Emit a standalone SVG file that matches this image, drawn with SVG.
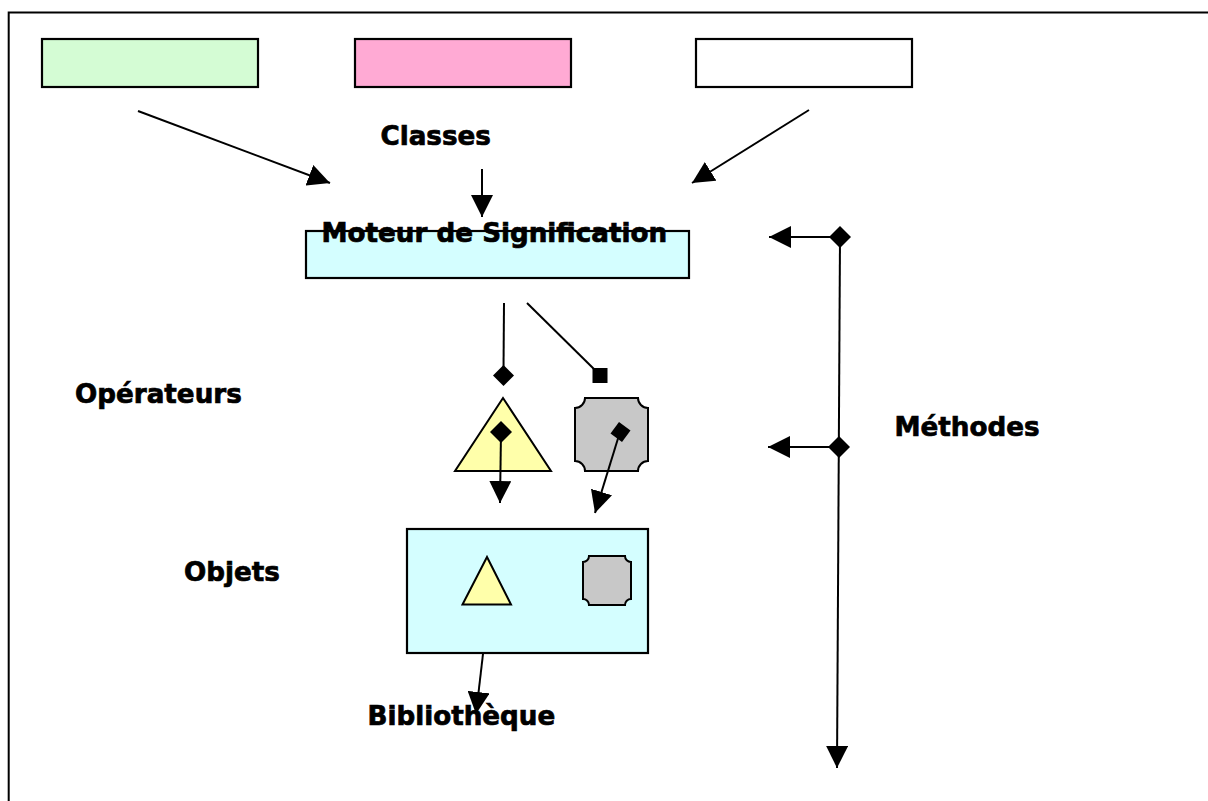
<svg xmlns="http://www.w3.org/2000/svg" width="1208" height="801" viewBox="0 0 1208 801">
  <defs>
    <style>
      .box { stroke: #000; stroke-width: 2.2; }
      .shape { stroke: #000; stroke-width: 2; }
      .ln { stroke: #000; stroke-width: 2; fill: none; }
      .arr { marker-end: url(#arrow); }
      .lbl { font-family: "DejaVu Sans", Verdana, sans-serif; font-weight: bold; font-size: 26.2px; fill: #000; stroke: #000; stroke-width: 0.7px; }
      .blk { fill: #000; }
    </style>
    <marker id="arrow" markerUnits="userSpaceOnUse" markerWidth="22" markerHeight="22" viewBox="0 0 20 20" refX="20" refY="10" orient="auto">
      <path d="M0,0 L20,10 L0,20 Z" fill="#000"/>
    </marker>
  </defs>
  <rect x="0" y="0" width="1208" height="801" fill="#fff"/>
  <!-- frame -->
  <path d="M8.7,801 L8.7,12.5 L1208,12.5" class="ln" stroke-width="2"/>

  <g id="class-green"><rect x="42" y="39" width="216" height="48" fill="#D4FCD4" class="box"/></g>
  <g id="class-pink"><rect x="355" y="39" width="216" height="48" fill="#FFAAD4" class="box"/></g>
  <g id="class-white"><rect x="696" y="39" width="216" height="48" fill="#FFFFFF" class="box"/></g>

  <g id="label-classes"><text x="380.5" y="145" class="lbl">Classes</text></g>

  <g id="moteur">
    <rect x="306" y="231" width="383" height="47" fill="#D4FEFF" class="box"/>
    <text x="321.5" y="241.5" class="lbl">Moteur de Signification</text>
  </g>

  <g id="label-operateurs"><text x="75" y="403" class="lbl">Opérateurs</text></g>
  <g id="label-methodes"><text x="894.5" y="435.5" class="lbl">Méthodes</text></g>
  <g id="label-objets"><text x="184" y="580.5" class="lbl">Objets</text></g>

  <g id="operator-triangle">
    <polygon points="503,398 455,471 551,471" fill="#FFFFAA" class="shape"/>
  </g>
  <g id="operator-plaque">
    <path d="M585,398 L638,398 A10,10 0 0 0 648,408 L648,461 A10,10 0 0 0 638,471 L585,471 A10,10 0 0 0 575,461 L575,408 A10,10 0 0 0 585,398 Z" fill="#C8C8C8" class="shape"/>
  </g>

  <g id="objets">
    <rect x="407" y="529" width="241" height="124" fill="#D4FEFF" class="box"/>
    <polygon points="487,557 462.5,604.5 511,604.5" fill="#FFFFAA" class="shape"/>
    <path d="M589,556 L625,556 A6,6 0 0 0 631,562 L631,599 A6,6 0 0 0 625,605 L589,605 A6,6 0 0 0 583,599 L583,562 A6,6 0 0 0 589,556 Z" fill="#C8C8C8" class="shape"/>
  </g>

  <g id="label-bibliotheque"><text x="367.5" y="725" class="lbl">Bibliothèque</text></g>

  <g id="connectors">
    <line x1="138" y1="111" x2="330" y2="183" class="ln arr"/>
    <line x1="482" y1="169" x2="482" y2="217" class="ln arr"/>
    <line x1="809" y1="110" x2="692" y2="183" class="ln arr"/>

    <line x1="504" y1="303" x2="503.5" y2="370" class="ln"/>
    <polygon points="503.5,365 514,375.5 503.5,386 493,375.5" class="blk"/>
    <line x1="527" y1="303" x2="597" y2="372" class="ln"/>
    <rect x="592.5" y="368" width="15" height="15" class="blk"/>

    <polygon points="501,421 512,432 501,443 490,432" class="blk"/>
    <line x1="501" y1="432" x2="500" y2="503" class="ln arr"/>

    <polygon points="619,422 630.5,430.5 622,442 610.5,433.5" class="blk"/>
    <line x1="620" y1="432" x2="595" y2="513" class="ln arr"/>

    <line x1="483" y1="654" x2="476" y2="714" class="ln arr"/>

    <line x1="840" y1="237" x2="837" y2="768" class="ln arr"/>
    <polygon points="840,226 851,237 840,248 829,237" class="blk"/>
    <line x1="830" y1="237" x2="769" y2="237" class="ln arr"/>
    <polygon points="839,436 850,447 839,458 828,447" class="blk"/>
    <line x1="829" y1="447" x2="768" y2="447" class="ln arr"/>
  </g>
</svg>
